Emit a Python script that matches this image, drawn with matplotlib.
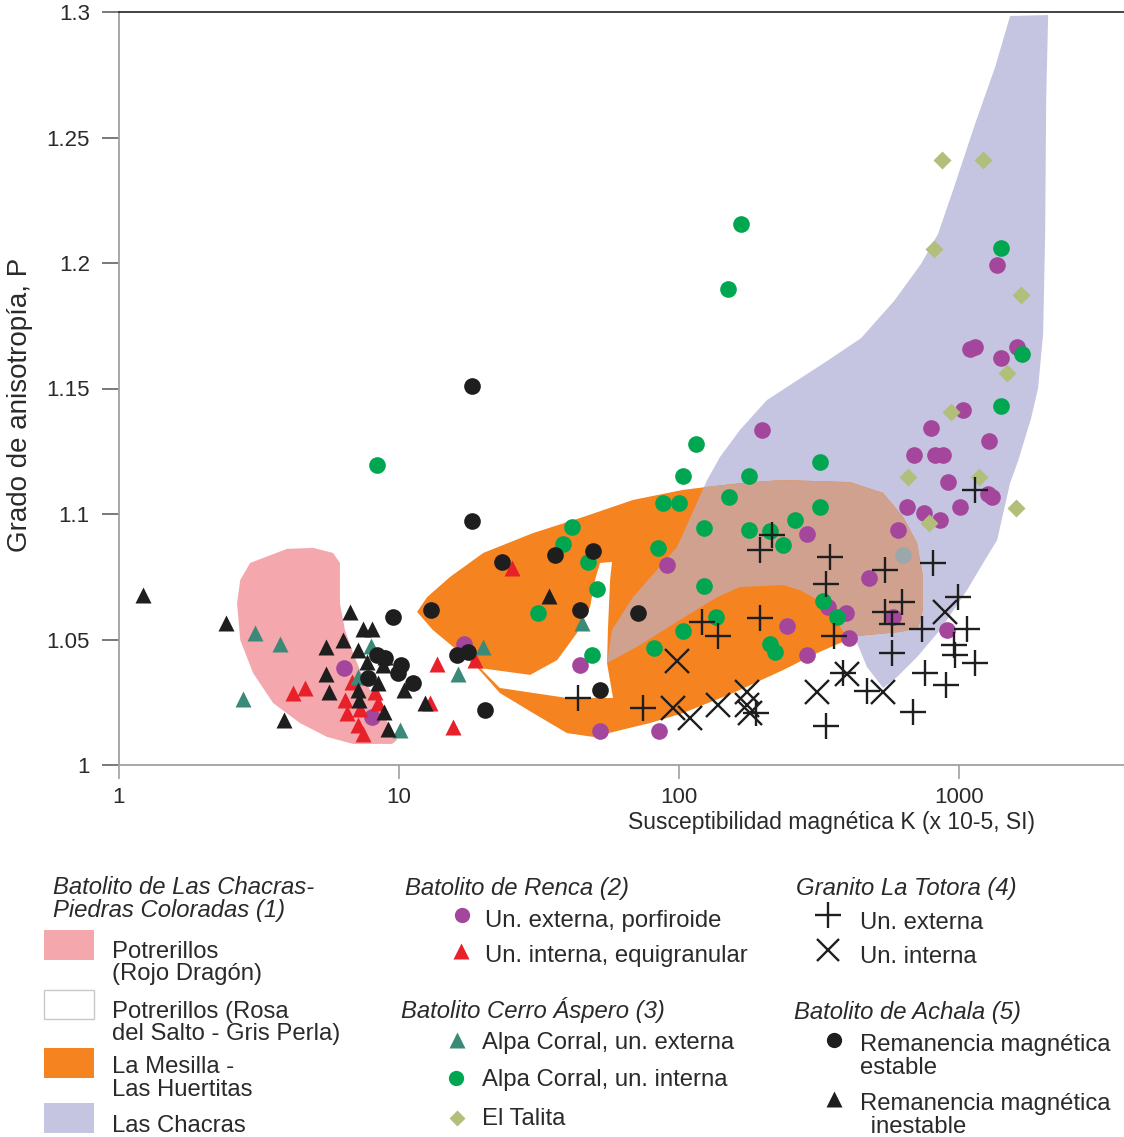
import matplotlib
matplotlib.use('Agg')
import matplotlib.pyplot as plt
from matplotlib.patches import Polygon, Rectangle
from matplotlib.ticker import FixedLocator, NullLocator

plt.rcParams['font.family'] = ['Liberation Sans', 'DejaVu Sans']

# ---------------- Data ----------------
# Field outlines (K, P)
pink_k = [2.94, 3.98, 4.93, 5.81, 6.15, 6.15, 6.41, 6.85, 7.43, 8.35, 9.29, 9.84, 9.44, 6.85, 5.53, 4.43, 3.55, 3.01, 2.71, 2.64, 2.71]
pink_p = [1.0805, 1.0861, 1.0865, 1.0845, 1.0805, 1.0645, 1.0538, 1.0446, 1.0351, 1.0247, 1.0151, 1.0100, 1.0084, 1.0084, 1.0112, 1.0167, 1.0247, 1.0367, 1.0498, 1.0645, 1.0737]

orange_k = [11.6, 12.6, 15.2, 20.0, 30.1, 45.4, 68.5, 103.3, 125.9, 179.4, 235, 408, 535, 631, 708, 743, 743, 714, 615, 432, 398, 311, 235, 156, 103.3, 78.7, 68.5, 49.3, 39.8, 30.1, 22.9, 19.1, 16.1, 13.2]
orange_p = [1.0610, 1.0669, 1.0749, 1.0845, 1.0924, 1.0988, 1.1056, 1.1096, 1.1108, 1.1127, 1.1135, 1.1127, 1.1084, 1.0988, 1.0884, 1.0749, 1.0618, 1.0546, 1.0530, 1.0514, 1.0498, 1.0446, 1.0378, 1.0287, 1.0207, 1.0167, 1.0151, 1.0112, 1.0127, 1.0207, 1.0287, 1.0386, 1.0458, 1.0538]

lav_k = [1521, 2080, 2046, 2029, 1995, 1915, 1808, 1624, 1521, 1367, 1219, 1068, 855, 708, 601, 535, 469, 432, 398, 327, 270, 235, 165, 137, 103.3, 72.6, 55.3, 57.6, 68.5, 98.4, 125.9, 140, 165, 206, 338, 447, 586, 731, 841, 960, 1140, 1345]
lav_p = [1.2984, 1.2988, 1.2649, 1.2116, 1.1717, 1.1502, 1.1382, 1.1211, 1.1124, 1.0896, 1.0805, 1.0697, 1.0538, 1.0430, 1.0351, 1.0307, 1.0390, 1.0486, 1.0510, 1.0645, 1.0697, 1.0717, 1.0709, 1.0669, 1.0586, 1.0478, 1.0406, 1.0538, 1.0669, 1.0869, 1.1135, 1.1227, 1.1335, 1.1454, 1.1610, 1.1701, 1.1849, 1.1996, 1.2116, 1.2303, 1.2554, 1.2781]

white_k = [52.2, 57.6, 56.7, 55.7, 55.3, 58.1, 39.8, 22.9, 19.5, 29.4, 36.7, 43.2, 48.1, 50.1]
white_p = [1.0805, 1.0809, 1.0737, 1.0538, 1.0406, 1.0267, 1.0267, 1.0307, 1.0386, 1.0359, 1.0418, 1.0526, 1.0629, 1.0737]

# Samples (K x10-5 SI, P)
renca_ext_k = [1367, 1140, 1095, 1611, 1413, 1033, 794, 1280, 198, 691, 821, 877, 914, 1270, 1312, 652, 750, 855, 1008, 605, 286, 477, 581, 243, 341, 395, 405, 286, 906, 44.3, 52.2, 84.8, 90.6, 17.1, 6.36, 8.01]
renca_ext_p = [1.1992, 1.1665, 1.1657, 1.1665, 1.1622, 1.1414, 1.1343, 1.1291, 1.1335, 1.1235, 1.1235, 1.1235, 1.1127, 1.1080, 1.1068, 1.1028, 1.1004, 1.0976, 1.1028, 1.0936, 1.0920, 1.0745, 1.0590, 1.0554, 1.0629, 1.0606, 1.0506, 1.0438, 1.0538, 1.0398, 1.0135, 1.0135, 1.0797, 1.0482, 1.0386, 1.0191]

renca_int_k = [4.18, 4.61, 6.41, 6.79, 8.21, 6.52, 7.26, 8.41, 7.14, 7.43, 13.7, 12.9, 15.6, 18.7, 25.3]
renca_int_p = [1.0287, 1.0307, 1.0259, 1.0331, 1.0291, 1.0207, 1.0223, 1.0247, 1.0159, 1.0124, 1.0402, 1.0247, 1.0151, 1.0418, 1.0785]

alpa_ext_k = [3.06, 3.76, 2.77, 7.94, 7.14, 16.2, 20.0, 45.1, 10.1]
alpa_ext_p = [1.0526, 1.0482, 1.0263, 1.0474, 1.0351, 1.0363, 1.0470, 1.0566, 1.0139]

alpa_int_k = [166, 150, 1413, 1679, 1413, 8.35, 115, 319, 103.3, 178, 151, 87.7, 100, 41.5, 38.5, 47.3, 84.1, 123, 178, 211, 260, 319, 235, 50.9, 31.4, 48.9, 123, 135, 103.3, 81.4, 211, 220, 327, 367]
alpa_int_p = [1.2155, 1.1896, 1.2060, 1.1637, 1.1430, 1.1195, 1.1279, 1.1207, 1.1151, 1.1151, 1.1068, 1.1044, 1.1044, 1.0948, 1.0880, 1.0809, 1.0865, 1.0944, 1.0936, 1.0932, 1.0976, 1.1028, 1.0876, 1.0701, 1.0606, 1.0438, 1.0713, 1.0590, 1.0534, 1.0466, 1.0482, 1.0450, 1.0653, 1.0590]

talita_k = [870, 1219, 814, 1665, 1483, 936, 657, 1179, 1598, 781]
talita_p = [1.2410, 1.2410, 1.2056, 1.1873, 1.1562, 1.1406, 1.1147, 1.1147, 1.1024, 1.0964]

otro_k = [631]
otro_p = [1.0837]

totora_ext_k = [43.6, 74.3, 121, 138, 188, 195, 215, 346, 335, 544, 808, 992, 626, 544, 576, 738, 1068, 195, 358, 576, 968, 960, 1140, 756, 899, 385, 469, 335, 685, 1140]
totora_ext_p = [1.0267, 1.0227, 1.0570, 1.0514, 1.0207, 1.0857, 1.0916, 1.0829, 1.0721, 1.0777, 1.0805, 1.0669, 1.0649, 1.0610, 1.0562, 1.0542, 1.0542, 1.0586, 1.0514, 1.0446, 1.0438, 1.0478, 1.0406, 1.0367, 1.0319, 1.0367, 1.0295, 1.0155, 1.0211, 1.1096]

totora_int_k = [98.4, 95.2, 109.5, 138, 175, 175, 179, 311, 398, 535, 891]
totora_int_p = [1.0414, 1.0227, 1.0187, 1.0239, 1.0291, 1.0239, 1.0207, 1.0291, 1.0363, 1.0291, 1.0610]

achala_est_k = [18.2, 18.2, 23.3, 36.1, 49.3, 13.0, 44.3, 71.4, 9.52, 16.1, 17.6, 8.35, 10.2, 9.92, 7.75, 11.2, 52.2, 20.3, 8.91]
achala_est_p = [1.1510, 1.0972, 1.0809, 1.0837, 1.0853, 1.0618, 1.0618, 1.0606, 1.0590, 1.0438, 1.0450, 1.0438, 1.0398, 1.0367, 1.0347, 1.0327, 1.0299, 1.0219, 1.0426]

achala_inest_k = [1.22, 2.41, 6.68, 7.43, 8.01, 6.31, 5.49, 7.14, 7.69, 8.91, 8.77, 5.49, 8.41, 7.14, 5.62, 7.20, 10.4, 12.4, 8.84, 3.88, 9.14, 34.3]
achala_inest_p = [1.0677, 1.0566, 1.0610, 1.0542, 1.0542, 1.0498, 1.0470, 1.0458, 1.0410, 1.0430, 1.0398, 1.0363, 1.0327, 1.0299, 1.0291, 1.0259, 1.0299, 1.0247, 1.0211, 1.0179, 1.0143, 1.0673]

x_ticks = [1, 10, 100, 1000]
x_ticklabels = ['1', '10', '100', '1000']
y_ticks = [1.0, 1.05, 1.1, 1.15, 1.2, 1.25, 1.3]
y_ticklabels = ['1', '1.05', '1.1', '1.15', '1.2', '1.25', '1.3']

# ---------------- Colours ----------------
C_PINK = '#f4a7ac'
C_ORANGE = '#f58420'
C_LAV = '#c5c5e2'
C_TAN = '#cfa18e'
C_PURPLE = '#a4479c'
C_RED = '#e8202a'
C_TEAL = '#3b8a79'
C_GREEN = '#00a650'
C_OLIVE = '#b2bf7b'
C_BLACK = '#1e1e1e'
C_TEXT = '#2a2a2a'

MS_C = 12     # circles
MS_T = 12     # triangles

fig = plt.figure(figsize=(11.24, 11.37), dpi=100)
ax = fig.add_axes([119/1124, 1 - 765/1137, 1005/1124, 753/1137])
ax.set_xscale('log')
ax.set_xlim(1, 3880)
ax.set_ylim(1, 1.3)

# Fields
lav = Polygon(list(zip(lav_k, lav_p)), closed=True, fc=C_LAV, ec='none', zorder=1)
ax.add_patch(lav)
ax.add_patch(Polygon(list(zip(orange_k, orange_p)), closed=True, fc=C_ORANGE, ec='none', zorder=2))
tan = Polygon(list(zip(orange_k, orange_p)), closed=True, fc=C_TAN, ec='none', zorder=3)
ax.add_patch(tan)
tan.set_clip_path(lav)
ax.add_patch(Polygon(list(zip(white_k, white_p)), closed=True, fc='white', ec='none', zorder=4))
ax.add_patch(Polygon(list(zip(pink_k, pink_p)), closed=True, fc=C_PINK, ec='none', zorder=2))

# Samples
ax.plot(renca_ext_k, renca_ext_p, 'o', ms=MS_C, color=C_PURPLE, mec='none', zorder=5)
ax.plot(renca_int_k, renca_int_p, '^', ms=MS_T, color=C_RED, mec='none', zorder=5)
ax.plot(alpa_ext_k, alpa_ext_p, '^', ms=MS_T, color=C_TEAL, mec='none', zorder=5)
ax.plot(alpa_int_k, alpa_int_p, 'o', ms=MS_C, color=C_GREEN, mec='none', zorder=6)
ax.plot(talita_k, talita_p, 'D', ms=9, color=C_OLIVE, mec='none', zorder=6)
ax.plot(otro_k, otro_p, 'o', ms=MS_C, color='#9ba7aa', mec='none', zorder=6)
ax.plot(achala_est_k, achala_est_p, 'o', ms=MS_C, color=C_BLACK, mec='none', zorder=7)
ax.plot(achala_inest_k, achala_inest_p, '^', ms=MS_T, color=C_BLACK, mec='none', zorder=7)
ax.plot(totora_ext_k, totora_ext_p, '+', ms=19, mew=1.7, color=C_BLACK, zorder=8)
ax.plot(totora_int_k, totora_int_p, 'x', ms=17, mew=1.7, color=C_BLACK, zorder=8)

# Axes styling
ax.spines['right'].set_visible(False)
ax.spines['left'].set_color('#a0a0a0')
ax.spines['bottom'].set_color('#a0a0a0')
ax.spines['left'].set_linewidth(1.3)
ax.spines['bottom'].set_linewidth(1.3)
ax.spines['top'].set_color('#222222')
ax.spines['top'].set_linewidth(1.2)

ax.xaxis.set_major_locator(FixedLocator(x_ticks))
ax.xaxis.set_minor_locator(NullLocator())
ax.set_xticklabels(x_ticklabels)
ax.yaxis.set_major_locator(FixedLocator(y_ticks))
ax.set_yticklabels(y_ticklabels)
ax.tick_params(axis='x', direction='out', length=10, width=1.2, color='#a0a0a0',
               labelsize=16, labelcolor=C_TEXT, pad=6)
ax.tick_params(axis='y', direction='out', length=12, width=1.1, color='#555555',
               labelsize=16, labelcolor=C_TEXT, pad=9)
ax.yaxis.get_major_ticks()[-1].tick1line.set_color('#222222')

ax.set_xlabel('Susceptibilidad magnética K (x 10-5, SI)', fontsize=16.5, color=C_TEXT)
ax.xaxis.set_label_coords((831 - 119) / 1005, (765 - 822) / 753)
ax.xaxis.label.set_va('center')
ax.set_ylabel('Grado de anisotropía, P', fontsize=20, color=C_TEXT)
ax.yaxis.set_label_coords((20 - 119) / 1005, (765 - 405) / 753)
ax.yaxis.label.set_va('center')

# ---------------- Legend (layout in pixel units) ----------------
lax = fig.add_axes([0, 0, 1, 1], zorder=-1)
lax.set_xlim(0, 1124)
lax.set_ylim(1137, 0)
lax.axis('off')

FS = 17.2
def txt(x, y, s, italic=False):
    lax.text(x, y, s, fontsize=FS, color=C_TEXT, va='center', ha='left',
             style='italic' if italic else 'normal')

# Column 1
txt(53, 888, 'Batolito de Las Chacras-', True)
txt(53, 911, 'Piedras Coloradas (1)', True)
lax.add_patch(Rectangle((44, 930), 50, 30, fc=C_PINK, ec='none'))
txt(112, 952, 'Potrerillos')
txt(112, 974, '(Rojo Dragón)')
lax.add_patch(Rectangle((44, 990), 50, 29, fc='white', ec='#c8c8c8', lw=1))
txt(112, 1012, 'Potrerillos (Rosa')
txt(112, 1034, 'del Salto - Gris Perla)')
lax.add_patch(Rectangle((44, 1048), 50, 30, fc=C_ORANGE, ec='none'))
txt(112, 1067, 'La Mesilla -')
txt(112, 1090, 'Las Huertitas')
lax.add_patch(Rectangle((44, 1103), 50, 30, fc=C_LAV, ec='none'))
txt(112, 1126, 'Las Chacras')

# Column 2
txt(405, 888, 'Batolito de Renca (2)', True)
lax.plot([462], [915], 'o', ms=11, color=C_PURPLE, mec='none')
txt(485, 921, 'Un. externa, porfiroide')
lax.plot([461], [951], '^', ms=11, color=C_RED, mec='none')
txt(485, 956, 'Un. interna, equigranular')
txt(401, 1010, 'Batolito Cerro Áspero (3)', True)
lax.plot([457], [1040], '^', ms=11, color=C_TEAL, mec='none')
txt(482, 1043, 'Alpa Corral, un. externa')
lax.plot([456], [1078], 'o', ms=11, color=C_GREEN, mec='none')
txt(482, 1080, 'Alpa Corral, un. interna')
lax.plot([457], [1118], 'D', ms=8, color=C_OLIVE, mec='none')
txt(482, 1119, 'El Talita')

# Column 3
txt(796, 888, 'Granito La Totora (4)', True)
lax.plot([828], [915], '+', ms=19, mew=1.7, color=C_BLACK)
txt(860, 923, 'Un. externa')
lax.plot([828], [950], 'x', ms=16, mew=1.7, color=C_BLACK)
txt(860, 957, 'Un. interna')
txt(794, 1013, 'Batolito de Achala (5)', True)
lax.plot([834], [1040], 'o', ms=11, color=C_BLACK, mec='none')
txt(860, 1045, 'Remanencia magnética')
txt(860, 1068, 'estable')
lax.plot([834], [1099], '^', ms=11, color=C_BLACK, mec='none')
txt(860, 1104, 'Remanencia magnética')
txt(864, 1127, ' inestable')

fig.savefig('out.png', dpi=100)
